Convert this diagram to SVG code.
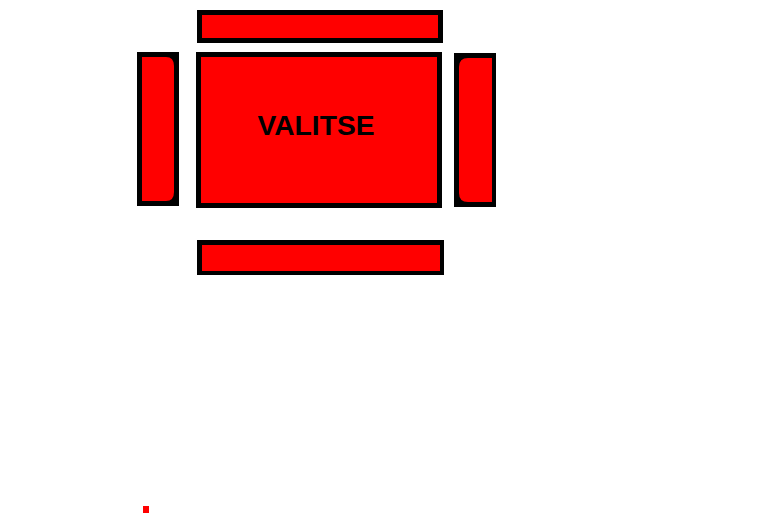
<svg xmlns="http://www.w3.org/2000/svg" width="778" height="519" viewBox="0 0 778 519">
<style>
.frame{fill:#000}
.red{fill:#ff0000}
.lbl{font-family:"Liberation Sans",Arial,sans-serif;font-weight:bold;font-size:28px;fill:#000}
</style>
<rect width="778" height="519" fill="#fff"/>
<g id="top-bar">
<rect class="frame" x="197" y="10" width="246" height="33"/>
<rect class="red" x="202" y="15" width="236" height="23"/>
</g>
<g id="left-piece">
<rect class="frame" x="137" y="52" width="42" height="154"/>
<path class="red" d="M142,57 H166 Q174,57 174,66 V192 Q174,201 166,201 H142 Z"/>
</g>
<g id="main">
<rect class="frame" x="196" y="52" width="246" height="156"/>
<rect class="red" x="201" y="57" width="236" height="146"/>
<text class="lbl" x="316" y="135" text-anchor="middle" textLength="117" lengthAdjust="spacingAndGlyphs">VALITSE</text>
</g>
<g id="right-piece">
<rect class="frame" x="454" y="53" width="42" height="154"/>
<path class="red" d="M492,58 H468 Q459,58 459,67 V193 Q459,202 468,202 H492 Z"/>
</g>
<g id="bottom-bar">
<rect class="frame" x="197" y="240" width="247" height="35"/>
<rect class="red" x="202" y="245" width="238" height="26"/>
</g>
<g id="dot">
<rect class="red" x="143" y="506" width="6" height="7"/>
</g>
<g id="connectors"/>
</svg>
